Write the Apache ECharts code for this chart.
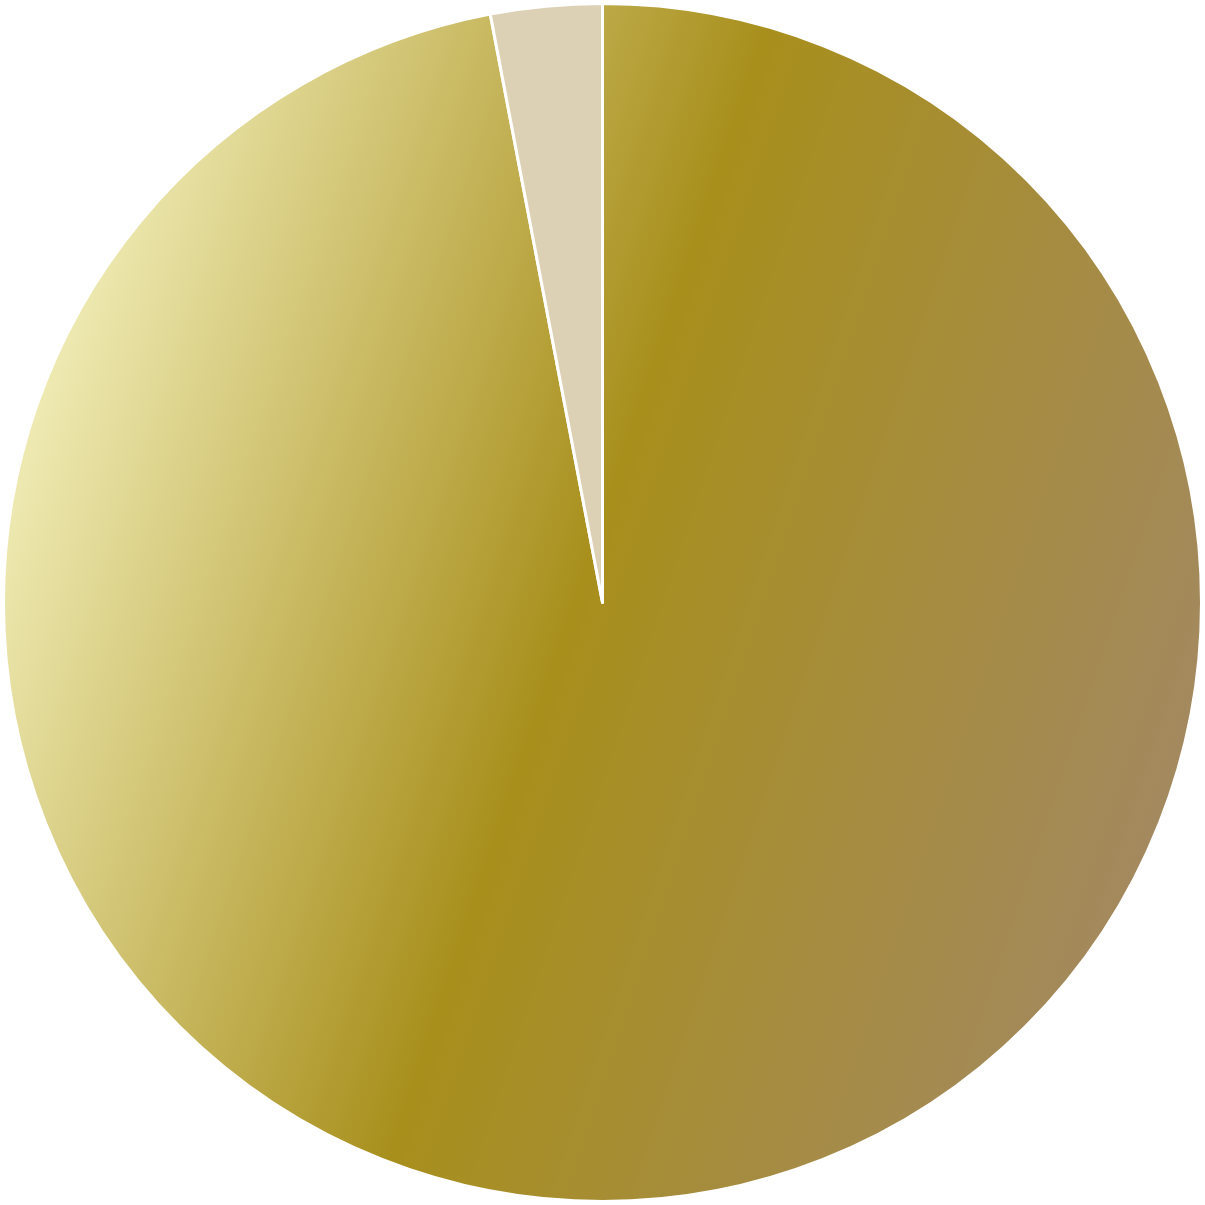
<!DOCTYPE html>
<html><head><meta charset="utf-8">
<script src="https://cdn.jsdelivr.net/npm/echarts@6/dist/echarts.min.js"></script>
<style>html,body{margin:0;padding:0;background:#fff}#c{width:1205px;height:1205px}</style>
</head><body><div id="c"></div>
<script>
const categories = ['A', 'B'];
const values = [97, 3];
const chart = echarts.init(document.getElementById('c'), null, {renderer: 'canvas'});
const grad = new echarts.graphic.LinearGradient(0.02, 0.34, 0.98, 0.66, [
  {offset: 0, color: '#efebb4'},
  {offset: 0.48, color: '#a88f1c'},
  {offset: 1, color: '#a3895f'}
]);
const colors = [grad, '#dcd1b4'];
chart.setOption({
  animation: false,
  series: [{
    type: 'pie',
    center: ['50%', '50%'],
    radius: [0, 599],
    startAngle: 90,
    clockwise: true,
    label: {show: false},
    labelLine: {show: false},
    itemStyle: {borderColor: '#ffffff', borderWidth: 3},
    data: categories.map((c, i) => ({name: c, value: values[i], itemStyle: {color: colors[i]}}))
  }]
});
</script></body></html>
